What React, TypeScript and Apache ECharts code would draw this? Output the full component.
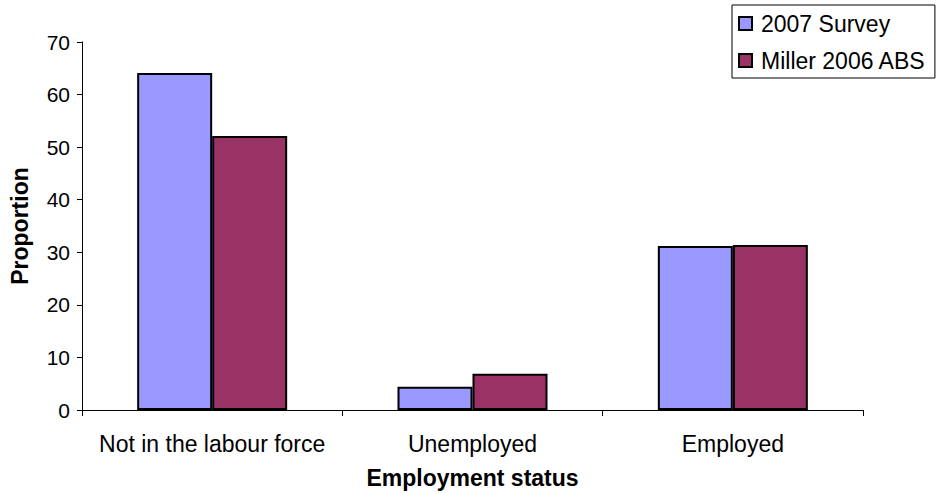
import React, { useEffect, useRef } from "react";
import * as echarts from "echarts";

const categories = ["Not in the labour force", "Unemployed", "Employed"];
const survey2007 = [64.1, 4.4, 31.2];
const miller2006 = [52.1, 6.9, 31.4];
const seriesNames = ["2007 Survey", "Miller 2006 ABS"];
const yTicks = { min: 0, max: 70, interval: 10 };

const FONT = "Liberation Sans, Arial, Helvetica, sans-serif";

export default function App() {
  const ref = useRef<HTMLDivElement>(null);
  useEffect(() => {
    document.body.style.margin = "0";
    const chart = echarts.init(ref.current!, null, { renderer: "svg" });
    chart.setOption({
      animation: false,
      backgroundColor: "#ffffff",
      textStyle: { fontFamily: FONT, color: "#000" },
      grid: { left: 82, right: 75, top: 42, bottom: 84, containLabel: false },
      legend: {
        orient: "vertical",
        left: 732,
        top: 5,
        padding: [7, 9, 6, 6],
        itemGap: 14,
        itemWidth: 13,
        itemHeight: 13,
        borderColor: "#000",
        borderWidth: 1,
        icon: "rect",
        textStyle: { fontFamily: FONT, fontSize: 23, color: "#000", padding: [0, 0, 0, 4] },
        data: seriesNames,
      },
      xAxis: {
        type: "category",
        data: categories,
        name: "Employment status",
        nameLocation: "middle",
        nameGap: 56,
        nameTextStyle: { fontFamily: FONT, fontSize: 23, fontWeight: "bold", color: "#000" },
        axisLine: { lineStyle: { color: "#000", width: 1 } },
        axisTick: { show: true, length: 6, lineStyle: { color: "#000" } },
        axisLabel: { fontFamily: FONT, fontSize: 23, color: "#000", margin: 22, interval: 0 },
        splitLine: { show: false },
      },
      yAxis: {
        type: "value",
        min: yTicks.min,
        max: yTicks.max,
        interval: yTicks.interval,
        name: "Proportion",
        nameLocation: "middle",
        nameGap: 51,
        nameRotate: 90,
        nameTextStyle: { fontFamily: FONT, fontSize: 23, fontWeight: "bold", color: "#000" },
        axisLine: { show: true, lineStyle: { color: "#000", width: 1 } },
        axisTick: { show: true, length: 5, lineStyle: { color: "#000" } },
        axisLabel: { fontFamily: FONT, fontSize: 21, color: "#000", margin: 12 },
        splitLine: { show: false },
      },
      series: [
        {
          name: seriesNames[0],
          type: "bar",
          data: survey2007,
          barWidth: 75,
          barGap: "0%",
          itemStyle: { color: "#9999FF", borderColor: "#000", borderWidth: 2 },
        },
        {
          name: seriesNames[1],
          type: "bar",
          data: miller2006,
          barWidth: 75,
          barGap: "0%",
          itemStyle: { color: "#993366", borderColor: "#000", borderWidth: 2 },
        },
      ],
    });
    return () => chart.dispose();
  }, []);
  return (
    <div
      ref={ref}
      style={{ position: "fixed", left: 0, top: 0, width: 938, height: 494 }}
    />
  );
}
